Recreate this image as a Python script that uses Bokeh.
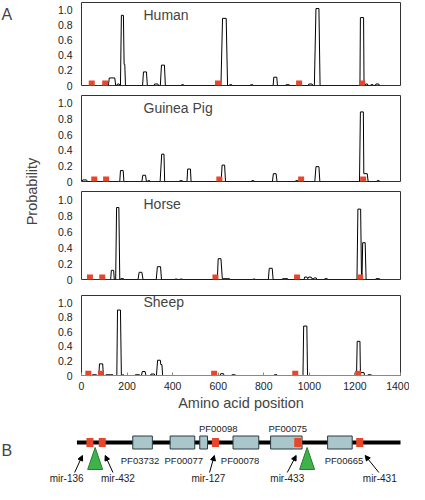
from bokeh.plotting import figure
from bokeh.layouts import column, row
from bokeh.models import Range1d, FixedTicker, Label, ColumnDataSource, Arrow, NormalHead
from bokeh.core.properties import value
from bokeh.embed import file_html
from bokeh.resources import INLINE

FONT = "Liberation Sans"

# ---------------- data ----------------
x_ticks = [0, 200, 400, 600, 800, 1000, 1200, 1400]
y_ticks = [0, 0.2, 0.4, 0.6, 0.8, 1.0]
y_tick_labels = ["0", "0.2", "0.4", "0.6", "0.8", "1.0"]

human_x = [118, 122, 146, 150, 155, 158, 165, 168, 171, 175, 184, 187, 190, 193,
           268, 272, 285, 289, 318, 321, 335, 338, 346, 351, 364, 368, 436, 439, 448, 451,
           612, 619, 635, 641, 648, 650, 660, 662, 740, 742, 752, 754, 841, 844, 857, 860,
           895, 897, 912, 914, 995, 998, 1012, 1015, 1022, 1029, 1042, 1047,
           1222, 1224, 1238, 1240, 1245, 1247, 1255, 1257, 1268, 1270, 1280, 1282,
           1290, 1292, 1305, 1307]
human_p = [0, 0.1, 0.1, 0, 0, 0.02, 0.02, 0, 0, 0.93, 0.93, 0.28, 0.28, 0,
           0, 0.18, 0.18, 0, 0, 0.02, 0.02, 0, 0, 0.27, 0.27, 0, 0, 0.01, 0.01, 0,
           0, 0.89, 0.89, 0, 0, 0.01, 0.01, 0, 0, 0.01, 0.01, 0, 0, 0.11, 0.11, 0,
           0, 0.01, 0.01, 0, 0, 0.02, 0.02, 0, 0, 1.02, 1.02, 0,
           0, 0.9, 0.9, 0, 0, 0.02, 0.02, 0, 0, 0.01, 0.01, 0,
           0, 0.02, 0.02, 0]
human_mir = [45, 104, 599, 955, 1232]

gp_x = [2, 5, 22, 26, 168, 171, 183, 186, 265, 269, 281, 285, 289, 291, 300, 302,
        345, 352, 362, 365, 428, 431, 443, 446, 463, 466, 478, 481, 613, 617, 628, 632,
        745, 747, 757, 759, 838, 842, 854, 858, 938, 940, 950, 952, 1024, 1029, 1042, 1046,
        1220, 1224, 1237, 1239, 1254, 1258, 1295, 1297, 1307, 1309]
gp_p = [0, 0.02, 0.02, 0, 0, 0.14, 0.14, 0, 0, 0.08, 0.08, 0, 0, 0.01, 0.01, 0,
        0, 0.35, 0.35, 0, 0, 0.01, 0.01, 0, 0, 0.16, 0.16, 0, 0, 0.21, 0.21, 0,
        0, 0.01, 0.01, 0, 0, 0.1, 0.1, 0, 0, 0.01, 0.01, 0, 0, 0.19, 0.19, 0,
        0, 0.89, 0.89, 0.1, 0.1, 0, 0, 0.01, 0.01, 0]
gp_mir = [56, 108, 605, 964, 1236]

horse_x = [128, 131, 141, 144, 150, 154, 164, 168, 170, 172, 185, 187, 248, 253, 265, 270,
           328, 333, 347, 351, 410, 412, 420, 422, 432, 434, 442, 444,
           596, 600, 612, 618, 650, 652, 752, 754, 762, 764, 820, 824, 837, 841,
           880, 882, 905, 907, 977, 979, 990, 993, 997, 1008, 1011, 1020, 1022, 1030, 1033,
           1066, 1068, 1079, 1081, 1209, 1213, 1225, 1229, 1231, 1234, 1245, 1249,
           1290, 1292, 1308, 1310]
horse_p = [0, 0.115, 0.115, 0, 0, 0.9, 0.9, 0, 0, 0.01, 0.01, 0, 0, 0.09, 0.09, 0,
           0, 0.16, 0.16, 0, 0, 0.005, 0.005, 0, 0, 0.005, 0.005, 0,
           0, 0.26, 0.26, 0.01, 0.01, 0, 0, 0.005, 0.005, 0, 0, 0.14, 0.14, 0,
           0, 0.01, 0.01, 0, 0, 0.03, 0.03, 0.01, 0.03, 0.03, 0.01, 0.01, 0.02, 0.02, 0,
           0, 0.01, 0.01, 0, 0, 0.88, 0.88, 0, 0, 0.46, 0.46, 0,
           0, 0.01, 0.01, 0]
horse_mir = [37, 91, 588, 946, 1223]

sheep_x = [45, 48, 66, 69, 76, 79, 93, 96, 104, 107, 138, 141, 155, 158, 171, 175,
           178, 180, 185, 187, 234, 236, 255, 257, 263, 267, 279, 283, 303, 305, 320, 322,
           329, 334, 346, 348, 353, 356, 608, 611, 623, 626, 658, 660, 675, 677,
           844, 846, 858, 860, 972, 975, 989, 992, 1207, 1210, 1222, 1224, 1240, 1242,
           1255, 1257, 1272, 1274]
sheep_p = [0, 0.01, 0.01, 0, 0, 0.16, 0.16, 0, 0, 0.01, 0.01, 0, 0, 0.9, 0.9, 0,
           0, 0.01, 0.01, 0, 0, 0.01, 0.01, 0, 0, 0.055, 0.055, 0, 0, 0.02, 0.02, 0,
           0, 0.21, 0.21, 0.15, 0.15, 0, 0, 0.025, 0.025, 0, 0, 0.01, 0.01, 0,
           0, 0.01, 0.01, 0, 0, 0.68, 0.68, 0, 0, 0.47, 0.47, 0.04, 0.04, 0,
           0, 0.01, 0.01, 0]
sheep_mir = [30, 85, 582, 938, 1214]

# panel B: gene model
backbone = [-20, 1400]
dom_names = ["PF03732", "PF00077", "PF00098", "PF00078", "PF00075", "PF00665"]
dom_start = [225, 389, 519, 665, 830, 1080]
dom_end = [311, 497, 553, 778, 968, 1188]
dom_label_x = [257, 449, 600, 696, 905, 1152]
dom_label_side = ["below", "below", "above", "below", "above", "below"]
mir_names = ["mir-136", "mir-432", "mir-127", "mir-433", "mir-431"]
mir_pos = [37, 91, 588, 949, 1221]
mir_label_x = [-65, 160, 557, 903, 1309]
arrow_from = [-30, 138, 562, 903, 1305]
arrow_to = [4, 104, 583, 942, 1245]
insert_x = [60, 990]

RED = "#e8462a"

# ---------------- layout constants ----------------
LEFT_W = 53
BL, FW, BR = 28, 319, 9
PANEL_W = BL + FW + BR

specs = [("Human", human_x, human_p, human_mir, 83, 2, 8, False),
         ("Guinea Pig", gp_x, gp_p, gp_mir, 86, 2, 8, False),
         ("Horse", horse_x, horse_p, horse_mir, 88, 2, 12, False),
         ("Sheep", sheep_x, sheep_p, sheep_mir, 86, 4, 32, True)]

panels = []
for name, xs, ps, mirs, fh, top, bot, show_x in specs:
    assert len(xs) == len(ps)
    p = figure(width=PANEL_W, height=top + fh + bot,
               x_range=Range1d(0, 1400), y_range=Range1d(0, 1.1),
               output_backend="svg", toolbar_location=None,
               min_border_left=BL, min_border_right=BR,
               min_border_top=top, min_border_bottom=bot)
    p.xgrid.visible = False
    p.ygrid.visible = False
    p.outline_line_color = "#333333"
    p.outline_line_width = 1
    p.background_fill_color = "white"
    p.border_fill_color = "white"

    p.line(xs, ps, line_color="black", line_width=1)
    p.scatter(mirs, [0.025] * len(mirs), marker="square", size=6,
              fill_color=RED, line_color=None)

    ya = p.yaxis[0]
    ya.ticker = FixedTicker(ticks=y_ticks)
    ya.major_label_overrides = {t: s for t, s in zip(y_ticks, y_tick_labels)}
    ya.axis_line_color = None
    ya.major_tick_out = 0
    ya.major_tick_in = 0
    ya.minor_tick_line_color = None
    ya.major_label_standoff = 9
    ya.major_label_text_font = FONT
    ya.major_label_text_font_size = "10.5px"
    ya.major_label_text_color = "#222222"

    xa = p.xaxis[0]
    if show_x:
        xa.ticker = FixedTicker(ticks=x_ticks)
        xa.axis_line_color = "#888888"
        xa.major_tick_line_color = "#888888"
        xa.major_tick_out = 0
        xa.major_tick_in = 3
        xa.minor_tick_line_color = None
        xa.major_label_standoff = 6
        xa.major_label_text_font = FONT
        xa.major_label_text_font_size = "10.5px"
        xa.major_label_text_color = "#222222"
        xa.axis_label = "Amino acid position"
        xa.axis_label_text_font = FONT
        xa.axis_label_text_font_size = "14.5px"
        xa.axis_label_text_font_style = "normal"
        xa.axis_label_standoff = 2
    else:
        xa.visible = False

    p.add_layout(Label(x=62, y=fh - 12, x_units="screen", y_units="screen",
                       text=name, text_font=FONT, text_font_size="14px",
                       text_baseline="middle", text_align="left"))
    panels.append(p)

total_h = sum(s[4] + s[5] + s[6] for s in specs)

left = figure(width=LEFT_W, height=total_h, x_range=Range1d(0, 1), y_range=Range1d(0, 1),
              output_backend="svg", toolbar_location=None, min_border=0)
left.axis.visible = False
left.grid.visible = False
left.outline_line_color = None
left.add_layout(Label(x=1, y=total_h - 14, x_units="screen", y_units="screen", text="A",
                      text_font=FONT, text_font_size="16px", text_baseline="middle"))
left.add_layout(Label(x=31, y=total_h - 191, x_units="screen", y_units="screen",
                      text="Probability", angle=1.5707963, text_font=FONT,
                      text_font_size="14.5px", text_align="center", text_baseline="middle"))

# ---------------- panel B ----------------
B_W, B_H = LEFT_W + PANEL_W, 71
scale = FW / 1400.0
x0 = -(LEFT_W + BL) / scale
x1 = 1400 + BR / scale
pb = figure(width=B_W, height=B_H, x_range=Range1d(x0, x1), y_range=Range1d(0, B_H),
            output_backend="svg", toolbar_location=None, min_border=0)
pb.axis.visible = False
pb.grid.visible = False
pb.outline_line_color = None

LINE_Y = 42
pb.line(backbone, [LINE_Y, LINE_Y], line_color="black", line_width=4)
pb.quad(left=dom_start, right=dom_end, bottom=LINE_Y - 6.5, top=LINE_Y + 6.5,
        fill_color="#a9c6cb", line_color="#2e3d42", line_width=1)
pb.rect(x=mir_pos, y=[LINE_Y] * len(mir_pos), width=7, height=9,
        width_units="screen", height_units="screen", fill_color=RED, line_color=None)
half = 7.5 / scale
tri_xs = [[t, t - half, t + half] for t in insert_x]
tri_ys = [[LINE_Y - 5, 15, 15] for _ in insert_x]
pb.patches(tri_xs, tri_ys, fill_color="#3db34a", line_color="#2a7a30", line_width=1)

arr_src = ColumnDataSource(dict(x0=arrow_from, y0=[12] * len(arrow_from),
                                x1=arrow_to, y1=[29] * len(arrow_to)))
pb.add_layout(Arrow(end=NormalHead(size=5, fill_color="black", line_color="black"),
                    x_start="x0", y_start="y0", x_end="x1", y_end="y1",
                    source=arr_src, line_width=1, line_color="black"))

dom_src = ColumnDataSource(dict(x=dom_label_x,
                                y=[56 if s == "above" else 24 for s in dom_label_side],
                                t=dom_names))
pb.text(x="x", y="y", text="t", source=dom_src, text_font=value(FONT),
        text_font_size="9.5px", text_align="center", text_baseline="middle",
        text_color="#222222")
mir_src = ColumnDataSource(dict(x=mir_label_x, y=[6] * len(mir_label_x), t=mir_names))
pb.text(x="x", y="y", text="t", source=mir_src, text_font=value(FONT),
        text_font_size="10px", text_align="center", text_baseline="middle",
        text_color="#222222")
pb.add_layout(Label(x=1, y=34, x_units="screen", y_units="screen", text="B",
                    text_font=FONT, text_font_size="16px", text_baseline="middle"))

layout = column(row(left, column(*panels)), pb)
open("out.html", "w").write(file_html(layout, INLINE))
